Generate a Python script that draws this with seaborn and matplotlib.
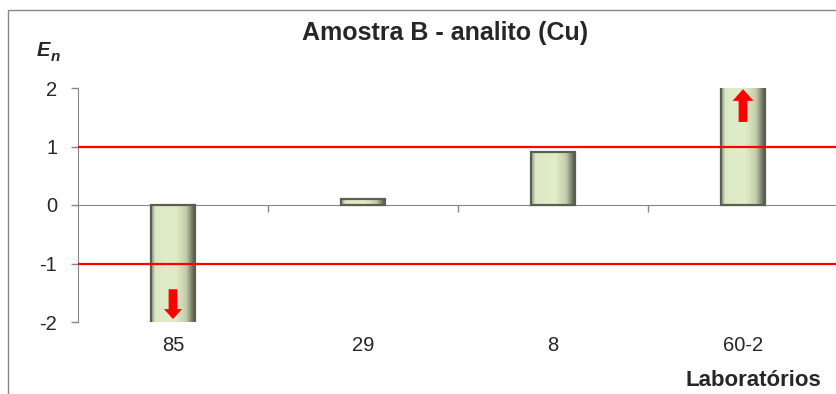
import numpy as np
import matplotlib
matplotlib.use("Agg")
import matplotlib.pyplot as plt
import seaborn as sns
from matplotlib.colors import LinearSegmentedColormap
from matplotlib.patches import Rectangle

# data
labs = ["85", "29", "8", "60-2"]
en = [-2.6, 0.1, 0.9, 2.5]
yticks = [-2, -1, 0, 1, 2]
limits = [-1, 1]
ymin, ymax = -2, 2

sns.set_style("white")
plt.rcParams["font.family"] = ["Liberation Sans", "DejaVu Sans"]

axis_gray = "#868686"
bar_cmap = LinearSegmentedColormap.from_list(
    "bar", [(0.0, "#8a8f84"), (0.1, "#dde9c4"), (0.55, "#e1edc9"),
            (0.8, "#c4cdaa"), (1.0, "#4f5448")])

fig = plt.figure(figsize=(8.37, 3.94), dpi=100)
ax = fig.add_axes([78 / 837, 72 / 394, 760 / 837, 234 / 394])

sns.barplot(x=labs, y=en, ax=ax, width=0.23, color="#e0ecc8",
            edgecolor="#5a5f52", linewidth=1.6, zorder=3)

# cylinder-like shading inside each bar, cut to the visible range
grad = np.linspace(0, 1, 256).reshape(1, -1)
for p in ax.patches:
    x0, y0, w, h = p.get_x(), p.get_y(), p.get_width(), p.get_height()
    lo, hi = sorted([y0, y0 + h])
    lo, hi = max(lo, ymin), min(hi, ymax)
    p.set_facecolor("none")
    ax.imshow(grad, extent=[x0, x0 + w, lo, hi], aspect="auto",
              cmap=bar_cmap, zorder=2.5)

ax.set_xlim(-0.5, len(labs) - 0.5)
ax.set_ylim(ymin, ymax)

for lv in limits:
    ax.axhline(lv, color="#ff0000", lw=1.6, zorder=4)

# out-of-range markers
for i, v in enumerate(en):
    if v < ymin:
        ax.arrow(i, -1.44, 0, -0.51, width=0.046, head_width=0.095,
                 head_length=0.17, length_includes_head=True,
                 color="#ff0000", zorder=5, lw=0)
    elif v > ymax:
        ax.arrow(i, 1.42, 0, 0.56, width=0.046, head_width=0.11,
                 head_length=0.2, length_includes_head=True,
                 color="#ff0000", zorder=5, lw=0)

for s in ["top", "right"]:
    ax.spines[s].set_visible(False)
ax.spines["left"].set_color(axis_gray)
ax.spines["bottom"].set_color(axis_gray)
ax.spines["bottom"].set_position(("data", 0))
ax.spines["bottom"].set_zorder(1)

ax.set_yticks(yticks)
ax.set_yticklabels([str(t) for t in yticks], fontsize=14.5)
ax.set_xticks(np.arange(len(labs) - 1) + 0.5)
ax.set_xticklabels([])
ax.tick_params(axis="both", direction="out", length=5, color=axis_gray, width=1)
ax.tick_params(axis="y", left=True, pad=10)
ax.tick_params(axis="x", bottom=True)
ax.set_xlabel("")
ax.set_ylabel("")

for i, lab in enumerate(labs):
    ax.text(i, -2.41, lab, ha="center", va="center", fontsize=14.5)

fig.text(445 / 837, 1 - 33 / 394, "Amostra B - analito (Cu)", ha="center",
         va="center", fontsize=18, fontweight="bold")
fig.text(37 / 837, 1 - 50 / 394, "E", ha="left", va="center", fontsize=14.5,
         fontweight="bold", fontstyle="italic")
fig.text(51 / 837, 1 - 57 / 394, "n", ha="left", va="center", fontsize=11,
         fontweight="bold", fontstyle="italic")
fig.text(821 / 837, 1 - 381 / 394, "Laboratórios", ha="right", va="center",
         fontsize=16, fontweight="bold")

fig.patches.append(Rectangle((8 / 837, -0.1), 1.2, 1.1 - 10 / 394,
                             transform=fig.transFigure, fill=False,
                             edgecolor=axis_gray, lw=1))

fig.savefig("out.png", dpi=100)
